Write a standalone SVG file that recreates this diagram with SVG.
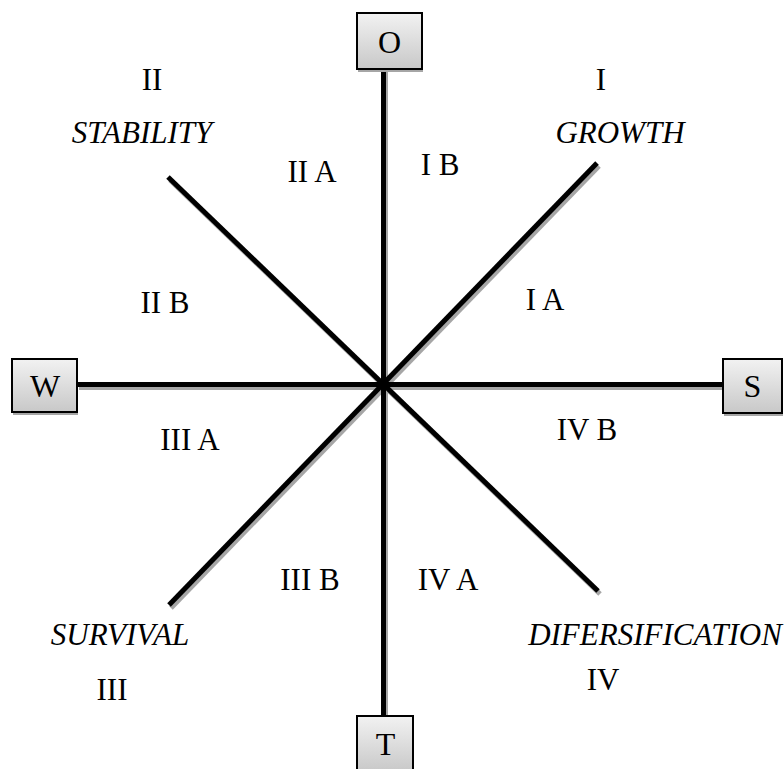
<svg xmlns="http://www.w3.org/2000/svg" width="784" height="769" viewBox="0 0 784 769">
<defs>
<linearGradient id="boxg" x1="0" y1="0" x2="0" y2="1">
<stop offset="0" stop-color="#f2f2f2"/>
<stop offset="1" stop-color="#c8c8c8"/>
</linearGradient>
<style>
text{font-family:"Liberation Serif","Times New Roman",serif;font-size:31px;fill:#000;text-anchor:middle}
.it{font-style:italic}
.ln{stroke:#000;stroke-width:5;fill:none}
.sh{stroke:#a6a6a6;stroke-width:5;fill:none}
.box{fill:url(#boxg);stroke:#000;stroke-width:2}
.bsh{fill:#a6a6a6}
</style>
</defs>
<rect width="784" height="769" fill="#fff"/>
<g id="connectors">
<g transform="translate(2,3)">
<line class="sh" x1="383.5" y1="69" x2="383.5" y2="716"/>
<line class="sh" x1="77" y1="384.5" x2="723" y2="384.5"/>
<line class="sh" x1="168" y1="177" x2="598" y2="591"/>
<line class="sh" x1="597" y1="163" x2="169" y2="605"/>
</g>
<line class="ln" x1="383.5" y1="69" x2="383.5" y2="716"/>
<line class="ln" x1="77" y1="384.5" x2="723" y2="384.5"/>
<line class="ln" x1="168" y1="177" x2="598" y2="591"/>
<line class="ln" x1="597" y1="163" x2="169" y2="605"/>
</g>
<g id="node-O">
<rect class="bsh" x="358" y="16" width="65" height="56"/>
<rect class="box" x="357" y="13" width="65" height="56"/>
<text x="389.5" y="53" style="font-size:32px">O</text>
</g>
<g id="node-W">
<rect class="bsh" x="13" y="362" width="65" height="53"/>
<rect class="box" x="12" y="359" width="65" height="53"/>
<text x="45" y="397" style="font-size:32px">W</text>
</g>
<g id="node-S">
<rect class="bsh" x="724" y="362" width="59" height="54"/>
<rect class="box" x="723" y="359" width="59" height="54"/>
<text x="752.5" y="397" style="font-size:32px">S</text>
</g>
<g id="node-T">
<rect class="bsh" x="358" y="719" width="56" height="56"/>
<rect class="box" x="357" y="716" width="56" height="56"/>
<text x="385.5" y="755" style="font-size:32px">T</text>
</g>
<g id="labels">
<text x="152" y="90">II</text>
<text class="it" x="142" y="143">STABILITY</text>
<text x="601" y="90">I</text>
<text class="it" x="620" y="143">GROWTH</text>
<text x="312" y="182">II A</text>
<text x="440" y="175">I B</text>
<text x="545" y="310">I A</text>
<text x="165" y="313">II B</text>
<text x="190" y="450">III A</text>
<text x="587" y="440">IV B</text>
<text x="310" y="590">III B</text>
<text x="448" y="590">IV A</text>
<text class="it" x="120" y="645">SURVIVAL</text>
<text x="112" y="700">III</text>
<text class="it" x="655" y="645">DIFERSIFICATION</text>
<text x="603" y="690">IV</text>
</g>
</svg>
